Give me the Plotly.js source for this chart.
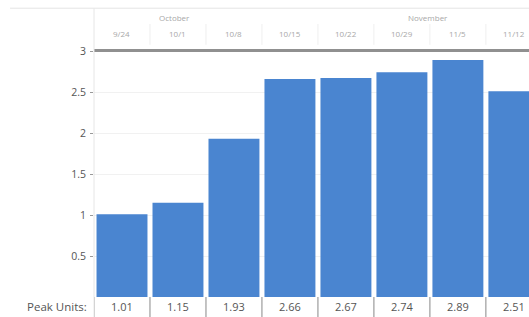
<!DOCTYPE html>
<html>
<head>
<meta charset="utf-8">
<script src="https://cdn.plot.ly/plotly-3.0.1.min.js"></script>
<style>
html,body{margin:0;padding:0;background:#fff;overflow:hidden;}
#chart{width:529px;height:317px;}
</style>
</head>
<body>
<div id="chart"></div>
<script>
// Data
const weeks = ["9/24","10/1","10/8","10/15","10/22","10/29","11/5","11/12"];
const peakUnits = [1.01, 1.15, 1.93, 2.66, 2.67, 2.74, 2.89, 2.51];
const peakLabels = ["1.01","1.15","1.93","2.66","2.67","2.74","2.89","2.51"];
const months = ["October","November"];
const monthPos = [0.186, 0.768];
const yTicks = [0.5, 1, 1.5, 2, 2.5, 3];
const yTickText = ["0.5","1","1.5","2","2.5","3"];
const rowLabel = "Peak Units:";

const font = "Open Sans, Segoe UI, sans-serif";
const idx = weeks.map((w,i)=>i);

const trace = {
  type: "bar",
  x: idx,
  y: peakUnits,
  marker: {color: "#4a85d0", line: {width: 0}},
  hoverinfo: "none"
};

const annotations = [];
const shapes = [];

weeks.forEach((w,i)=>{
  annotations.push({xref:"x", yref:"paper", x:i, y:1.07, text:w, showarrow:false,
    font:{family:font, size:8, color:"#a8a8a8"}, xanchor:"center", yanchor:"middle"});
  annotations.push({xref:"x", yref:"paper", x:i, y:-0.038, text:peakLabels[i], showarrow:false,
    font:{family:font, size:11, color:"#555"}, xanchor:"center", yanchor:"middle"});
  shapes.push({type:"line", xref:"x", yref:"paper", x0:i-0.5, x1:i-0.5, y0:0, y1:-0.09,
    line:{color:"#888", width:1}});
  if(i>0){
    shapes.push({type:"line", xref:"x", yref:"paper", x0:i-0.5, x1:i-0.5, y0:1.025, y1:1.11,
      line:{color:"#efefef", width:1}});
  }
});
months.forEach((m,i)=>{
  annotations.push({xref:"paper", yref:"paper", x:monthPos[i], y:1.138, text:m, showarrow:false,
    font:{family:font, size:8, color:"#a8a8a8"}, xanchor:"center", yanchor:"middle"});
});
annotations.push({xref:"paper", yref:"paper", x:-0.012, y:-0.038, text:rowLabel, showarrow:false,
  font:{family:font, size:11.5, color:"#555"}, xanchor:"right", yanchor:"middle"});

// top thick line at y=3 (paper ref so it is not clipped)
shapes.push({type:"line", xref:"paper", yref:"paper", x0:0, x1:1, y0:1.002, y1:1.002,
  line:{color:"#909090", width:3}});
shapes.push({type:"line", xref:"paper", yref:"paper", x0:-0.193, x1:1, y0:1.174, y1:1.174,
  line:{color:"#e4e4e4", width:1}});
shapes.push({type:"line", xref:"paper", yref:"paper", x0:0, x1:0, y0:1.174, y1:-0.09,
  line:{color:"#e6e6e6", width:1}});

const layout = {
  width: 529, height: 317,
  margin: {l: 94, r: 0, t: 51, b: 20, pad: 0},
  paper_bgcolor: "#fff", plot_bgcolor: "#fff",
  showlegend: false,
  bargap: 0.09,
  xaxis: {type:"linear", range:[-0.5, 7.27], showticklabels:false, showgrid:false,
    zeroline:false, showline:false, ticks:""},
  yaxis: {range:[0,3], tickvals:yTicks, ticktext:yTickText, ticks:"outside", ticklen:3,
    tickcolor:"#999", tickfont:{family:font, size:10.5, color:"#555"},
    showgrid:true, gridcolor:"#f1f1f1", zeroline:false, showline:false, ticklabelstandoff:2},
  annotations: annotations,
  shapes: shapes
};

Plotly.newPlot("chart", [trace], layout, {staticPlot:true, displayModeBar:false});
</script>
</body>
</html>
